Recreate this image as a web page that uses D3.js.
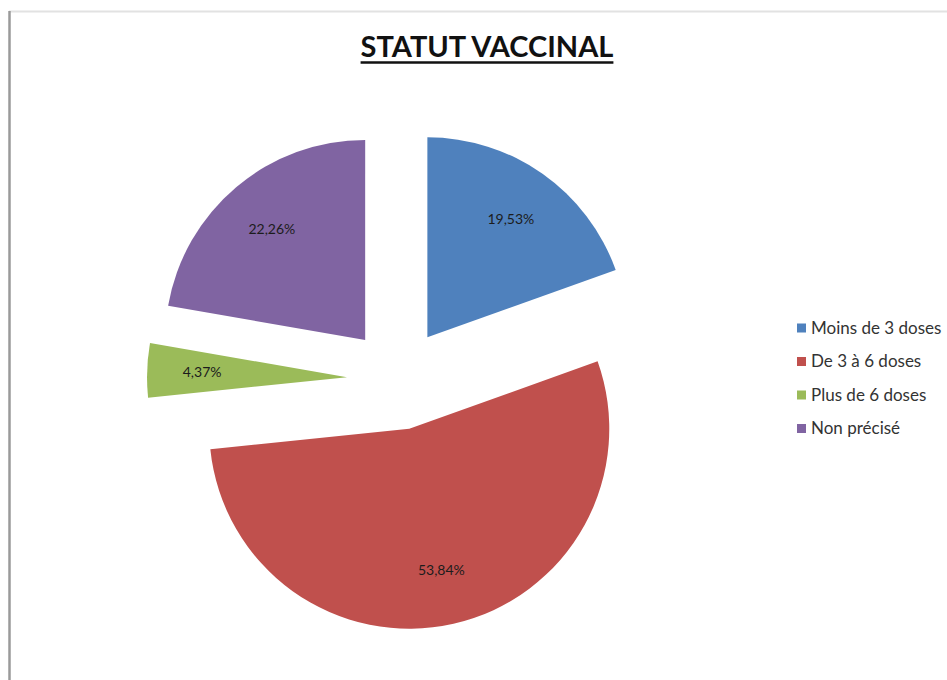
<!DOCTYPE html>
<html>
  <head>
    <meta charset="utf-8">
    <title>Statut vaccinal</title>
    <script src="https://d3js.org/d3.v7.min.js"></script>
    <style>
      body { margin: 0; background: #fff; }
      .slice-label { font-family: Lato, sans-serif; font-size: 14px; fill: #1c1c1c; }
      .legend text { font-family: Lato, sans-serif; font-size: 17px; fill: #333; }
      .title { font-family: Lato, sans-serif; font-size: 29px; font-weight: bold; fill: #111; }
    </style>
  </head>
  <body>
    <div id="chart"></div>
    <script>

      var categories = ["Moins de 3 doses", "De 3 à 6 doses", "Plus de 6 doses", "Non précisé"];
      var values = [19.53, 53.84, 4.37, 22.26];
      var labels = ["19,53%", "53,84%", "4,37%", "22,26%"];
      var colors = ["#4F81BD", "#C0504D", "#9BBB59", "#8064A2"];

      var width = 947,
        height = 680,
        cx = 398,
        cy = 379,
        radius = 200,
        explode = 51,
        labelRadius = 145;

      var svg = d3.select("#chart")
        .append("svg")
          .attr("width", width)
          .attr("height", height);

      // frame of the original picture
      svg.append("line")
        .attr("x1", 9).attr("x2", width).attr("y1", 11.5).attr("y2", 11.5)
        .attr("stroke", "#e2e2e2").attr("stroke-width", 2);
      svg.append("line")
        .attr("x1", 9.5).attr("x2", 9.5).attr("y1", 11).attr("y2", height)
        .attr("stroke", "#9a9a9a").attr("stroke-width", 2.5);

      var title = svg.append("text")
        .attr("class", "title")
        .attr("x", 487)
        .attr("y", 57)
        .attr("text-anchor", "middle")
        .text("STATUT VACCINAL");
      var tb = title.node().getBBox();
      svg.append("line")
        .attr("x1", tb.x).attr("x2", tb.x + tb.width)
        .attr("y1", 62.5).attr("y2", 62.5)
        .attr("stroke", "#111").attr("stroke-width", 2.5);

      var color = d3.scaleOrdinal().domain(categories).range(colors);

      var pie = d3.pie()
        .sort(null)
        .value((d) => d.value);

      var arc = d3.arc().innerRadius(0).outerRadius(radius);

      var data = categories.map((c, i) => ({ name: c, value: values[i], label: labels[i] }));

      var g = svg.append("g")
        .attr("transform", "translate(" + cx + "," + cy + ")");

      var slices = g.selectAll("g.slice")
        .data(pie(data))
        .enter().append("g")
          .attr("class", "slice")
          .attr("transform", (d) => {
            var a = (d.startAngle + d.endAngle) / 2;
            return "translate(" + (Math.sin(a) * explode) + "," + (-Math.cos(a) * explode) + ")";
          });

      slices.append("path")
        .attr("d", arc)
        .style("fill", (d) => color(d.data.name));

      slices.append("text")
        .attr("class", "slice-label")
        .attr("text-anchor", "middle")
        .attr("dy", "0.35em")
        .attr("x", (d) => Math.sin((d.startAngle + d.endAngle) / 2) * labelRadius)
        .attr("y", (d) => -Math.cos((d.startAngle + d.endAngle) / 2) * labelRadius)
        .text((d) => d.data.label);

      var legend = svg.append("g")
        .attr("class", "legend")
        .attr("transform", "translate(797,328)");

      var item = legend.selectAll("g")
        .data(categories)
        .enter().append("g")
          .attr("transform", (d, i) => "translate(0," + (i * 33.5) + ")");

      item.append("rect")
        .attr("x", 0).attr("y", -4.5)
        .attr("width", 9).attr("height", 9)
        .style("fill", (d) => color(d));

      item.append("text")
        .attr("x", 14)
        .attr("dy", "0.35em")
        .text((d) => d);

    </script>
  </body>
</html>
